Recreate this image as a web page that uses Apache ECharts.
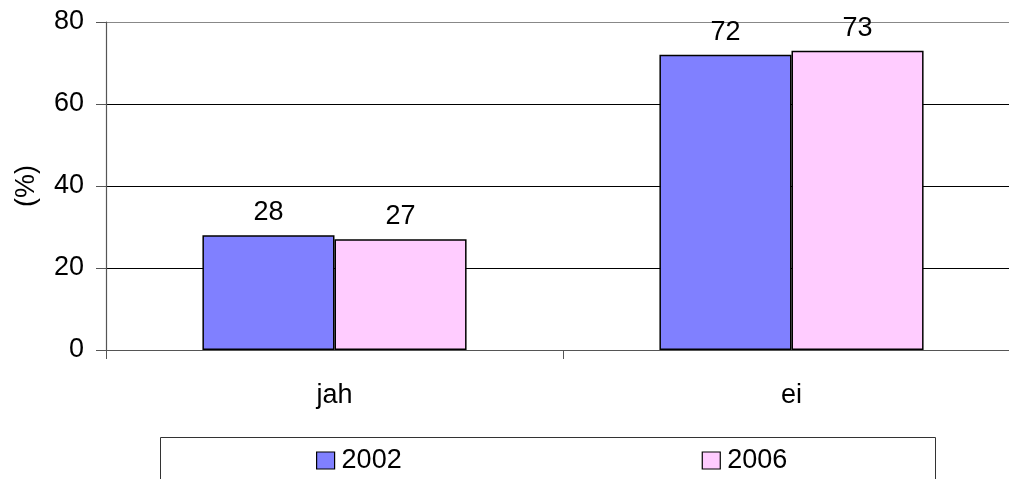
<!DOCTYPE html>
<html>
<head>
<meta charset="utf-8">
<script src="https://cdn.jsdelivr.net/npm/echarts@6/dist/echarts.min.js"></script>
<style>
html,body{margin:0;padding:0;background:#fff;}
#chart{width:1009px;height:479px;}
</style>
</head>
<body>
<div id="chart"></div>
<script>
var categories = ['jah', 'ei'];
var seriesNames = ['2002', '2006'];
var values2002 = [28, 72];
var values2006 = [27, 73];
var yTicks = [0, 20, 40, 60, 80];

var FONT = '"Liberation Sans", Arial, sans-serif';
var chart = echarts.init(document.getElementById('chart'), null, {renderer: 'canvas'});
var option = {
  animation: false,
  backgroundColor: '#ffffff',
  textStyle: {fontFamily: FONT},
  grid: {left: 106, top: 22, right: -11, height: 328, containLabel: false, outerBoundsMode: 'none'},
  legend: {
    data: seriesNames,
    left: 316,
    top: 447,
    padding: 0,
    itemGap: 300,
    itemWidth: 18,
    itemHeight: 17,
    icon: 'rect',
    textStyle: {fontSize: 27, color: '#000', fontFamily: FONT, padding: [0, 0, 0, 2]},
    itemStyle: {borderColor: '#000', borderWidth: 1.2}
  },
  graphic: [{
    type: 'rect',
    shape: {x: 160.5, y: 437.5, width: 775, height: 60},
    style: {fill: 'none', stroke: '#333', lineWidth: 1},
    silent: true
  }],
  xAxis: {
    type: 'category',
    data: categories,
    boundaryGap: true,
    axisLine: {lineStyle: {color: '#555', width: 1.2}},
    axisTick: {show: true, length: 9, lineStyle: {color: '#555'}},
    axisLabel: {fontSize: 27, color: '#000', margin: 32, fontFamily: FONT},
    splitLine: {show: false}
  },
  yAxis: {
    type: 'value',
    min: yTicks[0],
    max: yTicks[yTicks.length - 1],
    interval: 20,
    name: '(%)',
    nameLocation: 'middle',
    nameRotate: 90,
    nameGap: 66,
    nameTextStyle: {fontSize: 27, color: '#000', fontFamily: FONT},
    axisLine: {show: true, lineStyle: {color: '#555', width: 1.2}},
    axisTick: {show: true, length: 10, lineStyle: {color: '#555'}},
    axisLabel: {fontSize: 27, color: '#000', margin: 22, fontFamily: FONT},
    splitLine: {show: true, lineStyle: {color: ['#000', '#000', '#000', '#000', '#888'], width: 1}}
  },
  series: [
    {
      name: seriesNames[0],
      type: 'bar',
      data: values2002,
      barGap: '0%',
      barCategoryGap: '42.2%',
      itemStyle: {color: '#8080FF', borderColor: '#000', borderWidth: 1.5},
      label: {show: true, position: 'top', distance: 9, fontSize: 27, color: '#000', fontFamily: FONT}
    },
    {
      name: seriesNames[1],
      type: 'bar',
      data: values2006,
      barGap: '0%',
      barCategoryGap: '42.2%',
      itemStyle: {color: '#FFCCFF', borderColor: '#000', borderWidth: 1.5},
      label: {show: true, position: 'top', distance: 9, fontSize: 27, color: '#000', fontFamily: FONT}
    }
  ]
};
chart.setOption(option);
</script>
</body>
</html>
